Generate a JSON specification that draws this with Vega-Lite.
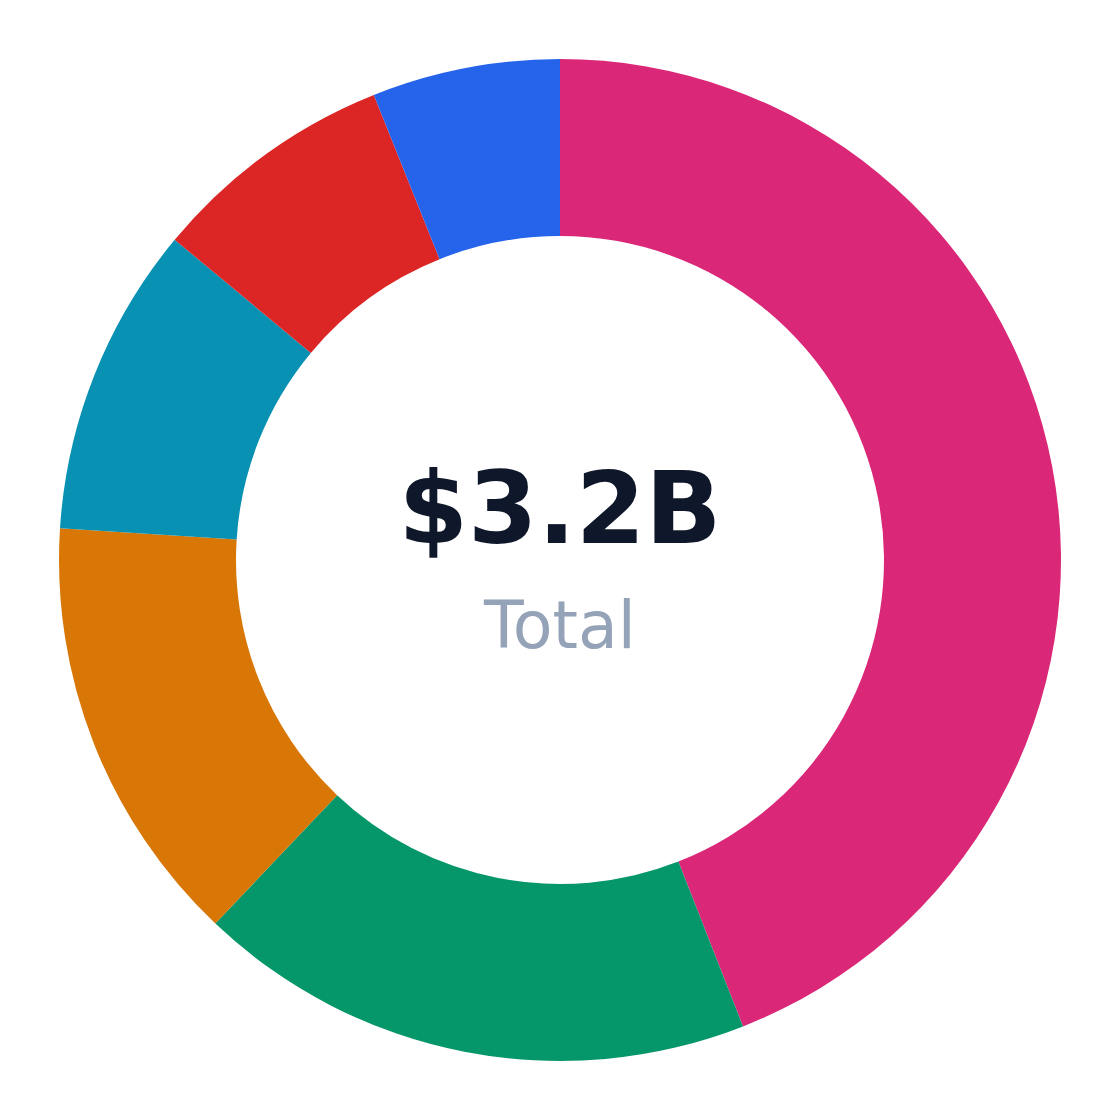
{
  "$schema": "https://vega.github.io/schema/vega-lite/v6.json",
  "width": 1120,
  "height": 1120,
  "autosize": {"type": "fit", "contains": "padding"},
  "padding": 0,
  "background": "#ffffff",
  "config": {"view": {"stroke": null}, "font": "DejaVu Sans"},
  "layer": [
    {
      "data": {
        "values": [
          {"segment": "A", "value": 1.41, "rank": 1},
          {"segment": "B", "value": 0.577, "rank": 2},
          {"segment": "C", "value": 0.446, "rank": 3},
          {"segment": "D", "value": 0.321, "rank": 4},
          {"segment": "E", "value": 0.253, "rank": 5},
          {"segment": "F", "value": 0.194, "rank": 6}
        ]
      },
      "mark": {"type": "arc", "radius": 501, "innerRadius": 324},
      "encoding": {
        "theta": {"field": "value", "type": "quantitative", "stack": true},
        "order": {"field": "rank", "type": "quantitative"},
        "color": {
          "field": "segment",
          "type": "nominal",
          "legend": null,
          "scale": {
            "domain": ["A", "B", "C", "D", "E", "F"],
            "range": ["#DB2777", "#059669", "#D97706", "#0891B2", "#DC2626", "#2563EB"]
          }
        }
      }
    },
    {
      "data": {"values": [{"label": "$3.2B"}]},
      "mark": {
        "type": "text",
        "font": "DejaVu Sans",
        "fontWeight": "bold",
        "fontSize": 100,
        "color": "#0F172A",
        "align": "center",
        "baseline": "alphabetic",
        "dy": -17
      },
      "encoding": {"text": {"field": "label"}}
    },
    {
      "data": {"values": [{"label": "Total"}]},
      "mark": {
        "type": "text",
        "font": "DejaVu Sans",
        "fontSize": 65,
        "color": "#94A3B8",
        "align": "center",
        "baseline": "alphabetic",
        "dy": 88
      },
      "encoding": {"text": {"field": "label"}}
    }
  ]
}
